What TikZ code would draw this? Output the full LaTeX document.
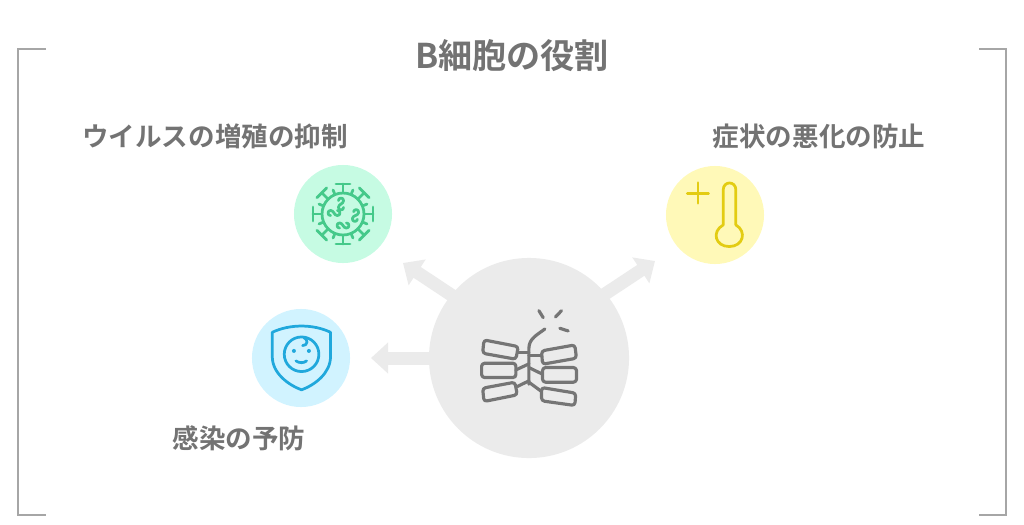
\documentclass[tikz,border=0pt]{standalone}
\usepackage{fontspec}
\setmainfont{Noto Sans CJK JP}[BoldFont={* Bold}]
\usepackage{tikz}
\usetikzlibrary{arrows.meta,positioning}
\definecolor{txtgray}{HTML}{737373}
\definecolor{framegray}{HTML}{A6A6A6}
\definecolor{hubgray}{HTML}{EBEBEB}
\definecolor{icongray}{HTML}{757575}
\definecolor{virusfill}{HTML}{C6FBE3}
\definecolor{virusline}{HTML}{45C98A}
\definecolor{thermofill}{HTML}{FFF9B8}
\definecolor{thermoline}{HTML}{E3CC12}
\definecolor{shieldfill}{HTML}{D1F3FF}
\definecolor{shieldline}{HTML}{20A8DC}
\tikzset{
	bigcirc/.style={circle,fill=#1,minimum size=0.98cm,inner sep=0pt},
	toptitle/.style={font=\fontsize{9.7pt}{11pt}\selectfont\bfseries,text=txtgray},
	sidelabel/.style={font=\fontsize{7.55pt}{9pt}\selectfont\bfseries,text=txtgray},
	thickarrow/.style={line width=0.13cm,draw=hubgray,shorten <=-1pt,-{Triangle[length=0.17cm,width=0.3cm]}},
	iconline/.style={line width=0.78pt,line cap=round,line join=round,draw=#1},
	hubline/.style={iconline=icongray,line width=0.9pt},
	squig/.pic={\draw[iconline=virusline] (-3,-4) .. controls (-3,-8) and (3,-8) .. (3,-4) .. controls (3,0) and (-3,0) .. (-3,4) .. controls (-3,8) and (3,8) .. (3,4);}
}
\begin{document}
\begin{tikzpicture}[x=0.01cm,y=-0.01cm,>={Stealth[round]}]
	\useasboundingbox (0,0) rectangle (1024,524);
	
	% corners of the frame
	\draw[framegray,line width=0.3pt] (46,49) -- (18,49) -- (18,515) -- (46,515);
	\draw[framegray,line width=0.3pt] (979,49) -- (1006,49) -- (1006,515) -- (979,515);
	
	\node[toptitle] (title) at (512,56) {B細胞の役割};
	
	\node[bigcirc=hubgray, minimum size=2cm] (hub) at (529,358) {};
	\node[bigcirc=virusfill] (virus) at (343,214) {};
	\node[bigcirc=thermofill] (thermo) at (715,215) {};
	\node[bigcirc=shieldfill] (shield) at (301,358) {};
	
	\node[sidelabel] (virustxt) at (215,136) {ウイルスの増殖の抑制};
	\node[sidelabel] (thermotxt) at (819,136) {症状の悪化の防止};
	\node[sidelabel] (shieldtxt) at (239,438) {感染の予防};
	
	\coordinate (virustip) at (403,263);
	\coordinate (thermotip) at (655,261);
	\coordinate (shieldtip) at (371,358);
	
	\draw[thickarrow] (hub.141) -- (virustip);
	\draw[thickarrow] (hub.40) -- (thermotip);
	\draw[thickarrow] (hub.180) -- (shieldtip);
	
	% virus
	\begin{scope}[shift={(virus.center)}]
		\draw[iconline=virusline] (0,0) circle (21);
		\foreach \a in {0,45,...,315} {
			\draw[iconline=virusline] (\a:21) -- (\a:30);
			\draw[iconline=virusline,rotate=\a] (30,-7) -- (30,7);
			\draw[iconline=virusline] (\a+22.5:21) -- (\a+22.5:26);
		}
		\pic[scale=0.85] at (-2,-10) {squig};
		\pic[scale=0.85,rotate=90] at (-9,-1) {squig};
		\pic[scale=0.85,rotate=-10] at (12.5,1.5) {squig};
		\pic[scale=0.85,rotate=90] at (0,11.5) {squig};
	\end{scope}
	
	% thermometer
	\begin{scope}[shift={(650,170)},x=0.00333cm,y=-0.00333cm]
		\draw[iconline=thermoline] (112,70) -- (176,70);
		\draw[iconline=thermoline] (144,38) -- (144,100);
		\draw[iconline=thermoline] (220,165) -- (220,60) .. controls (220,32) and (258,32) .. (258,60) -- (258,165)
			.. controls (292,185) and (280,230) .. (238,230) .. controls (196,230) and (184,185) .. (220,165) -- cycle;
	\end{scope}
	
	% shield with baby
	\begin{scope}[shift={(240,300)},x=0.00333cm,y=-0.00333cm]
		\draw[iconline=shieldline] (97,97) .. controls (150,72) and (220,72) .. (272,97) -- (272,170)
			.. controls (272,220) and (225,255) .. (185,270) .. controls (145,255) and (97,220) .. (97,170) -- cycle;
		\draw[iconline=shieldline] (185,163) circle (52);
		\fill[shieldline] (162,153) circle (6);
		\fill[shieldline] (207,153) circle (6);
		\draw[iconline=shieldline] (168,183) .. controls (178,190) and (192,190) .. (200,183);
		\draw[iconline=shieldline] (188,137) .. controls (205,137) and (205,118) .. (192,113);
	\end{scope}
	
	% hub icon
	\begin{scope}[shift={(460,295)},x=0.00333cm,y=-0.00333cm,rounded corners=0.03cm]
		\draw[hubline] (72,135) -- (175,155) -- (168,193) -- (68,175) -- cycle;
		\draw[hubline] (65,205) -- (168,205) -- (168,248) -- (65,248) -- cycle;
		\draw[hubline] (68,280) -- (165,262) -- (172,300) -- (72,320) -- cycle;
		\draw[hubline] (245,168) -- (345,150) -- (350,190) -- (248,208) -- cycle;
		\draw[hubline] (248,218) -- (350,218) -- (350,262) -- (248,262) -- cycle;
		\draw[hubline] (245,278) -- (348,295) -- (345,332) -- (245,318) -- cycle;
		\begin{scope}[sharp corners]
			\draw[hubline] (207,268) -- (207,160) .. controls (207,130) and (235,118) .. (255,102);
			\draw[hubline] (175,172) -- (207,172);
			\draw[hubline] (207,183) -- (245,183);
			\draw[hubline] (168,225) -- (207,207);
			\draw[hubline] (207,218) -- (248,238);
			\draw[hubline] (172,275) -- (207,258);
			\draw[hubline] (207,262) -- (245,290);
			\draw[hubline] (237,47) -- (250,68);
			\draw[hubline] (305,47) -- (287,66);
			\draw[hubline] (300,100) -- (325,108);
		\end{scope}
	\end{scope}
\end{tikzpicture}
\end{document}
